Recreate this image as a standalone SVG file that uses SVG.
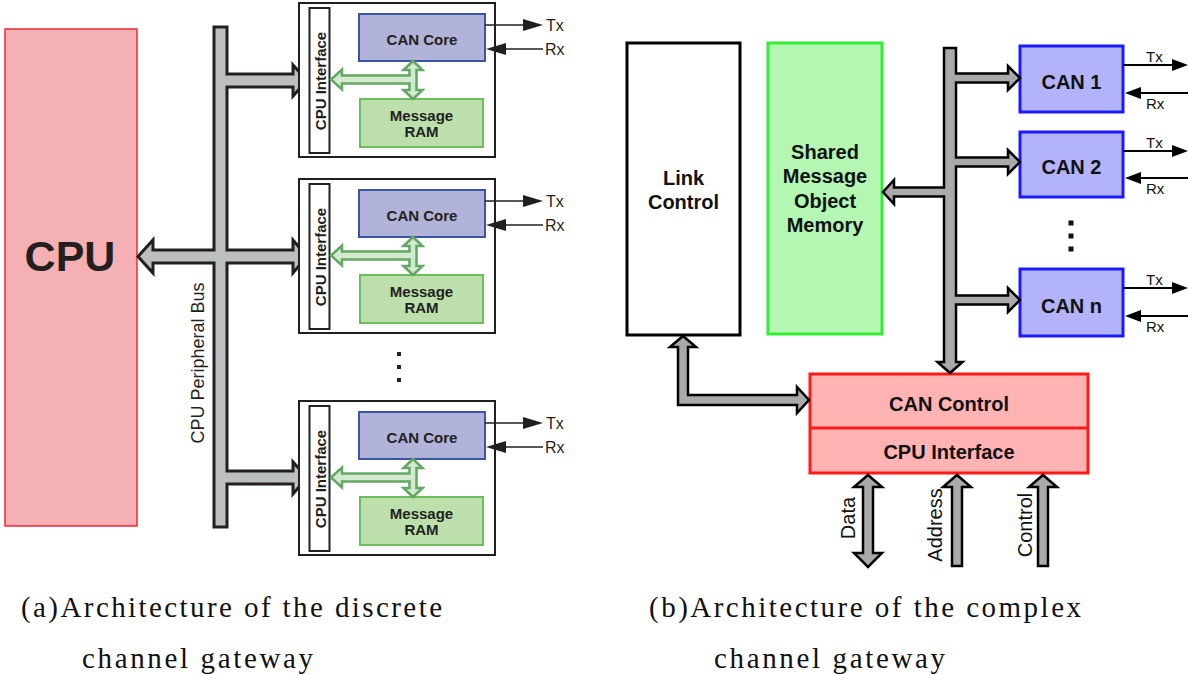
<svg xmlns="http://www.w3.org/2000/svg" width="1188" height="675" viewBox="0 0 1188 675">
<style>
.box{fill:#fff;stroke:#231f20;stroke-width:2}
.ciface{fill:#fff;stroke:#231f20;stroke-width:2}
.core{fill:#b2b3d8;stroke:#3c56a5;stroke-width:2}
.ram{fill:#bddfac;stroke:#6cbd5e;stroke-width:2}
.lbl{font-family:"Liberation Sans",Arial,sans-serif;font-weight:bold;font-size:15px;fill:#231f20;text-anchor:middle}
.txrx{font-family:"Liberation Sans",Arial,sans-serif;font-size:16px;fill:#231f20}
.txrxR{font-family:"Liberation Sans",Arial,sans-serif;font-size:15px;fill:#111}
.wire{stroke:#231f20;stroke-width:1.5;fill:none}
.wireR{stroke:#000;stroke-width:2;fill:none}
.green{fill:#d4ead0;stroke:#62a862;stroke-width:2.5}
.busL{fill:#bcbec0;stroke:#231f20;stroke-width:3}
.busR{fill:#aaaaaa;stroke:#000;stroke-width:2.5}
.rlbl{font-family:"Liberation Sans",Arial,sans-serif;font-weight:bold;font-size:20px;fill:#111;text-anchor:middle}
.rtxt{font-family:"Liberation Sans",Arial,sans-serif;font-size:20px;fill:#111;text-anchor:middle}
.can{fill:#b3b3fa;stroke:#1a1aff;stroke-width:3}
.cap{font-family:"Liberation Serif","Times New Roman",serif;font-size:29px;fill:#111}
</style>
<defs>
<marker id="ahL" markerUnits="userSpaceOnUse" markerWidth="20" markerHeight="12" refX="5" refY="6" orient="auto">
<path d="M0,0 L20,6 L0,12 Z" fill="#231f20"/>
</marker>
<marker id="ahR" markerUnits="userSpaceOnUse" markerWidth="16" markerHeight="12" refX="4" refY="6" orient="auto">
<path d="M0,0 L16,6 L0,12 Z" fill="#000"/>
</marker>
</defs>

<!-- Left diagram -->
<g id="cpu">
<rect x="5" y="29" width="132" height="497" fill="#f4b0b3" stroke="#ed2b36" stroke-width="1.5"/>
<text x="70" y="271" font-family="Liberation Sans,Arial,sans-serif" font-weight="bold" font-size="43" fill="#231f20" text-anchor="middle">CPU</text>
</g>

<g id="connectors-left">
<path class="busL" d="M214,27 L227,27 L227,74 L293,74 L293,65 L307,80.5 L293,96 L293,87 L227,87 L227,250 L293,250 L293,240 L307,256.5 L293,273 L293,263 L227,263 L227,471 L293,471 L293,462 L307,477.5 L293,494 L293,484 L227,484 L227,527 L214,527 L214,263 L153,263 L153,273 L138,256.5 L153,240 L153,250 L214,250 Z"/>
<text class="txrx" style="font-size:18px" transform="translate(204,363) rotate(-90)" text-anchor="middle">CPU Peripheral Bus</text>
</g>

<g id="can-node-1" transform="translate(0,3)">
<rect class="box" x="299" y="0" width="196" height="154"/>
<rect class="ciface" x="309.5" y="5" width="20" height="145"/>
<text class="lbl" transform="translate(326,78) rotate(-90)">CPU Interface</text>
<rect class="core" x="359" y="11" width="126" height="47"/>
<text class="lbl" x="422" y="42">CAN Core</text>
<rect class="ram" x="360" y="96" width="123" height="48"/>
<text class="lbl" x="421.5" y="118">Message</text>
<text class="lbl" x="421.5" y="134">RAM</text>
<path class="green" d="M331,76.5 L342,66.5 L342,72.5 L409.5,72.5 L409.5,67 L403.5,67 L413,58 L422.5,67 L416.5,67 L416.5,87 L422.5,87 L413,96 L403.5,87 L409.5,87 L409.5,80.5 L342,80.5 L342,86.5 Z"/>
<line class="wire" x1="485" y1="22" x2="528" y2="22" marker-end="url(#ahL)"/>
<line class="wire" x1="543" y1="46" x2="501" y2="46" marker-end="url(#ahL)"/>
<text class="txrx" x="546" y="28">Tx</text>
<text class="txrx" x="545" y="52">Rx</text>
</g>

<g id="can-node-2" transform="translate(0,179)">
<rect class="box" x="299" y="0" width="196" height="154"/>
<rect class="ciface" x="309.5" y="5" width="20" height="145"/>
<text class="lbl" transform="translate(326,78) rotate(-90)">CPU Interface</text>
<rect class="core" x="359" y="11" width="126" height="47"/>
<text class="lbl" x="422" y="42">CAN Core</text>
<rect class="ram" x="360" y="96" width="123" height="48"/>
<text class="lbl" x="421.5" y="118">Message</text>
<text class="lbl" x="421.5" y="134">RAM</text>
<path class="green" d="M331,76.5 L342,66.5 L342,72.5 L409.5,72.5 L409.5,67 L403.5,67 L413,58 L422.5,67 L416.5,67 L416.5,87 L422.5,87 L413,96 L403.5,87 L409.5,87 L409.5,80.5 L342,80.5 L342,86.5 Z"/>
<line class="wire" x1="485" y1="22" x2="528" y2="22" marker-end="url(#ahL)"/>
<line class="wire" x1="543" y1="46" x2="501" y2="46" marker-end="url(#ahL)"/>
<text class="txrx" x="546" y="28">Tx</text>
<text class="txrx" x="545" y="52">Rx</text>
</g>

<g id="dots-left" fill="#231f20">
<rect x="397" y="352" width="4" height="4"/>
<rect x="397" y="365" width="4" height="4"/>
<rect x="397" y="378" width="4" height="4"/>
</g>

<g id="can-node-3" transform="translate(0,401)">
<rect class="box" x="299" y="0" width="196" height="154"/>
<rect class="ciface" x="309.5" y="5" width="20" height="145"/>
<text class="lbl" transform="translate(326,78) rotate(-90)">CPU Interface</text>
<rect class="core" x="359" y="11" width="126" height="47"/>
<text class="lbl" x="422" y="42">CAN Core</text>
<rect class="ram" x="360" y="96" width="123" height="48"/>
<text class="lbl" x="421.5" y="118">Message</text>
<text class="lbl" x="421.5" y="134">RAM</text>
<path class="green" d="M331,76.5 L342,66.5 L342,72.5 L409.5,72.5 L409.5,67 L403.5,67 L413,58 L422.5,67 L416.5,67 L416.5,87 L422.5,87 L413,96 L403.5,87 L409.5,87 L409.5,80.5 L342,80.5 L342,86.5 Z"/>
<line class="wire" x1="485" y1="22" x2="528" y2="22" marker-end="url(#ahL)"/>
<line class="wire" x1="543" y1="46" x2="501" y2="46" marker-end="url(#ahL)"/>
<text class="txrx" x="546" y="28">Tx</text>
<text class="txrx" x="545" y="52">Rx</text>
</g>

<!-- Right diagram -->
<g id="link-control">
<rect x="627" y="43" width="113" height="292" fill="#fff" stroke="#000" stroke-width="3"/>
<text class="rlbl" x="683.5" y="185">Link</text>
<text class="rlbl" x="683.5" y="209">Control</text>
</g>

<g id="shared-memory">
<rect x="768" y="43" width="114" height="291" fill="#b3f7b3" stroke="#33ee33" stroke-width="3"/>
<text class="rlbl" x="825" y="159">Shared</text>
<text class="rlbl" x="825" y="183">Message</text>
<text class="rlbl" x="825" y="208">Object</text>
<text class="rlbl" x="825" y="232">Memory</text>
</g>

<g id="can-1">
<rect class="can" x="1020" y="46" width="103" height="66"/>
<text class="rlbl" x="1071.5" y="89">CAN 1</text>
</g>
<g id="can-2">
<rect class="can" x="1020" y="132" width="103" height="65"/>
<text class="rlbl" x="1071.5" y="174">CAN 2</text>
</g>
<g id="can-n">
<rect class="can" x="1020" y="269" width="103" height="67"/>
<text class="rlbl" x="1071.5" y="313">CAN n</text>
</g>

<g id="dots-right" fill="#111">
<rect x="1068.5" y="220.5" width="5" height="5"/>
<rect x="1068.5" y="233.5" width="5" height="5"/>
<rect x="1068.5" y="246.5" width="5" height="5"/>
</g>

<g id="can-control">
<rect x="810" y="374" width="278" height="99" fill="#ffb3b3" stroke="#ff1a1a" stroke-width="3"/>
<line x1="810" y1="428" x2="1088" y2="428" stroke="#ff1a1a" stroke-width="3"/>
<text class="rlbl" x="949" y="411">CAN Control</text>
<text class="rlbl" x="949" y="459">CPU Interface</text>
</g>

<g id="connectors-right">
<path class="busR" d="M944,48 L956,48 L956,73.5 L1008,73.5 L1008,66 L1020,78 L1008,90 L1008,82.5 L956,82.5 L956,157.5 L1008,157.5 L1008,150 L1020,162 L1008,174 L1008,166.5 L956,166.5 L956,295.5 L1008,295.5 L1008,288 L1020,300 L1008,312 L1008,304.5 L956,304.5 L956,362 L962.5,362 L950,373 L937.5,362 L944,362 L944,196.5 L894,196.5 L894,204 L883,192 L894,180 L894,187.5 L944,187.5 Z"/>
<path class="busR" d="M683,336 L696,347 L688,347 L688,395 L797,395 L797,387 L809,400 L797,413 L797,405 L678,405 L678,347 L670,347 Z"/>
<path class="busR" d="M868,475 L882,487 L873,487 L873,553 L882,553 L868,567 L854,553 L863,553 L863,487 L854,487 Z"/>
<path class="busR" d="M957,475 L971,487 L962,487 L962,566 L952,566 L952,487 L943,487 Z"/>
<path class="busR" d="M1043,475 L1057,487 L1048,487 L1048,566 L1038,566 L1038,487 L1029,487 Z"/>
<text class="rtxt" transform="translate(855,518) rotate(-90)">Data</text>
<text class="rtxt" transform="translate(942,525) rotate(-90)">Address</text>
<text class="rtxt" transform="translate(1032,525) rotate(-90)">Control</text>
<line class="wireR" x1="1123" y1="65" x2="1176" y2="65" marker-end="url(#ahR)"/>
<line class="wireR" x1="1188" y1="93" x2="1137" y2="93" marker-end="url(#ahR)"/>
<line class="wireR" x1="1123" y1="151" x2="1176" y2="151" marker-end="url(#ahR)"/>
<line class="wireR" x1="1188" y1="178" x2="1137" y2="178" marker-end="url(#ahR)"/>
<line class="wireR" x1="1123" y1="288" x2="1176" y2="288" marker-end="url(#ahR)"/>
<line class="wireR" x1="1188" y1="316" x2="1137" y2="316" marker-end="url(#ahR)"/>
<text class="txrxR" x="1146" y="62">Tx</text>
<text class="txrxR" x="1146" y="109">Rx</text>
<text class="txrxR" x="1146" y="148">Tx</text>
<text class="txrxR" x="1146" y="194">Rx</text>
<text class="txrxR" x="1146" y="285">Tx</text>
<text class="txrxR" x="1146" y="332">Rx</text>
</g>

<g id="captions">
<text class="cap" x="21" y="617" textLength="421" lengthAdjust="spacing">(a)Architecture of the discrete</text>
<text class="cap" x="82" y="668" textLength="231" lengthAdjust="spacing">channel gateway</text>
<text class="cap" x="649" y="617" textLength="432" lengthAdjust="spacing">(b)Architecture of the complex</text>
<text class="cap" x="714" y="668" textLength="231" lengthAdjust="spacing">channel gateway</text>
</g>
</svg>
